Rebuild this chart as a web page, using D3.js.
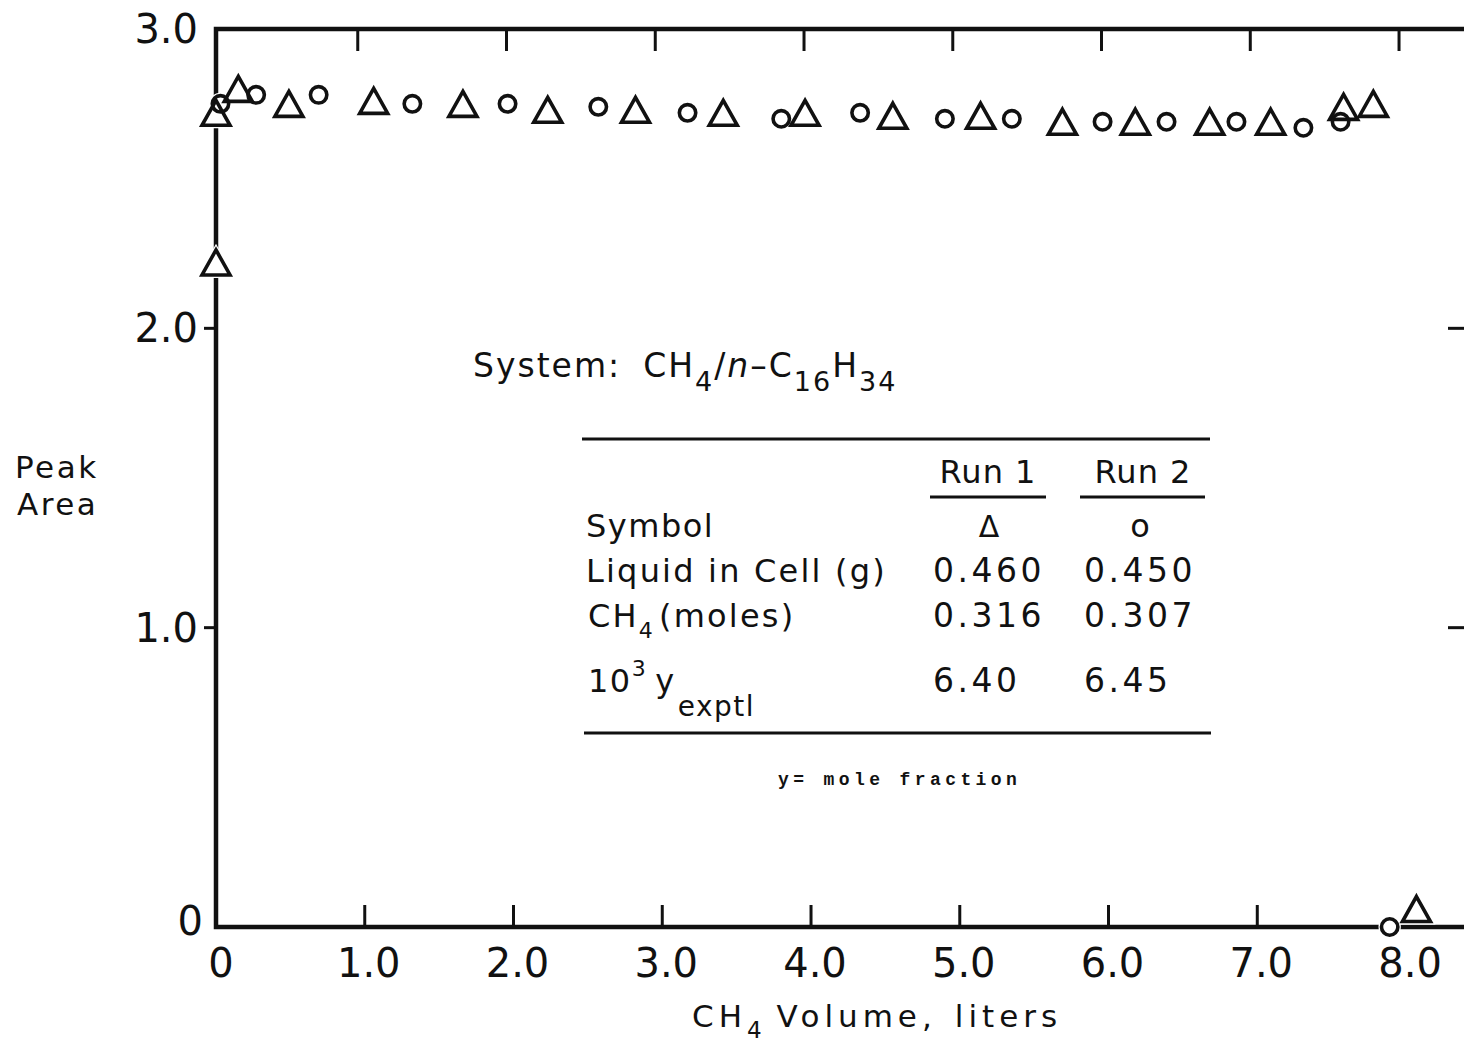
<!DOCTYPE html>
<html>
<head>
<meta charset="utf-8">
<script src="https://cdn.jsdelivr.net/npm/d3@7"></script>
<style>
    body { margin: 0; background: #fff; }
    svg { display: block; font-family: "DejaVu Sans", sans-serif; }
</style>
</head>
<body>
<svg id="chart" width="1464" height="1049"></svg>
<script>
// Datos (Peak Area vs CH4 Volume)
const run1X = [0.0, 0.0, 0.15, 0.49, 1.06, 1.66, 2.23, 2.82, 3.41, 3.96, 4.55, 5.14, 5.69, 6.18, 6.68, 7.09, 7.58, 7.78, 8.07];
const run1Y = [2.72, 2.22, 2.80, 2.75, 2.76, 2.75, 2.73, 2.73, 2.72, 2.72, 2.71, 2.71, 2.69, 2.69, 2.69, 2.69, 2.74, 2.75, 0.06];
const run2X = [0.03, 0.27, 0.69, 1.32, 1.96, 2.57, 3.17, 3.80, 4.33, 4.90, 5.35, 5.96, 6.39, 6.86, 7.31, 7.56, 7.89];
const run2Y = [2.75, 2.78, 2.78, 2.75, 2.75, 2.74, 2.72, 2.70, 2.72, 2.70, 2.70, 2.69, 2.69, 2.69, 2.67, 2.69, 0.0];

// Ticks
const xTicks = [0, 1, 2, 3, 4, 5, 6, 7, 8];
const xTickLabels = ["0", "1.0", "2.0", "3.0", "4.0", "5.0", "6.0", "7.0", "8.0"];
const yTicks = [0, 1, 2, 3];
const yTickLabels = ["0", "1.0", "2.0", "3.0"];

// Tabla de la leyenda
const runNames = ["Run 1", "Run 2"];
const runSymbols = ["Δ", "o"];
const liquidInCell = ["0.460", "0.450"];
const ch4Moles = ["0.316", "0.307"];
const yExptl = ["6.40", "6.45"];

const svg = d3.select("#chart");

const x = d3.scaleLinear().domain([0, 8.43]).range([216, 1470]);
const y = d3.scaleLinear().domain([0, 3]).range([927, 29]);

const ink = "#111";

// Marco (el lado derecho queda fuera de la imagen)
const frame = svg.append("g")
    .attr("stroke", ink)
    .attr("stroke-width", 4.5)
    .attr("fill", "none");

frame.append("rect")
    .attr("x", x(0))
    .attr("y", y(3))
    .attr("width", x(8.43) - x(0))
    .attr("height", y(0) - y(3));

// Ticks hacia dentro: abajo y arriba
const inner = [1, 2, 3, 4, 5, 6, 7];
svg.append("g")
    .attr("stroke", ink)
    .attr("stroke-width", 3)
    .selectAll("line.bt")
    .data(inner)
    .enter()
    .append("line")
    .attr("x1", d => x(d))
    .attr("x2", d => x(d))
    .attr("y1", y(0))
    .attr("y2", y(0) - 22);

svg.append("g")
    .attr("stroke", ink)
    .attr("stroke-width", 3)
    .selectAll("line.tt")
    .data(inner.concat([8]))
    .enter()
    .append("line")
    .attr("x1", d => x(d) - 7)
    .attr("x2", d => x(d) - 7)
    .attr("y1", y(3))
    .attr("y2", y(3) + 22);

// Ticks del eje y (izquierda hacia fuera, derecha hacia dentro)
svg.append("g")
    .attr("stroke", ink)
    .attr("stroke-width", 3)
    .selectAll("line")
    .data([1, 2])
    .enter()
    .append("line")
    .attr("x1", x(0) - 12)
    .attr("x2", x(0))
    .attr("y1", d => y(d))
    .attr("y2", d => y(d));

svg.append("g")
    .attr("stroke", ink)
    .attr("stroke-width", 3)
    .selectAll("line")
    .data([1, 2])
    .enter()
    .append("line")
    .attr("x1", x(8.43) - 22)
    .attr("x2", x(8.43))
    .attr("y1", d => y(d))
    .attr("y2", d => y(d));

// Etiquetas de ticks
svg.append("g")
    .attr("font-size", 40)
    .attr("fill", ink)
    .attr("text-anchor", "middle")
    .selectAll("text")
    .data(xTicks)
    .enter()
    .append("text")
    .attr("x", d => x(d) + (d === 0 ? 5 : 4))
    .attr("y", 977)
    .text((d, i) => xTickLabels[i]);

svg.append("g")
    .attr("font-size", 40)
    .attr("fill", ink)
    .attr("text-anchor", "end")
    .selectAll("text")
    .data(yTicks)
    .enter()
    .append("text")
    .attr("x", d => d === 0 ? 203 : 198)
    .attr("y", d => y(d) + 14 - (d === 0 ? 6 : 0))
    .text((d, i) => yTickLabels[i]);

// Titulos de ejes
const yTitle = svg.append("text")
    .attr("font-size", 31)
    .attr("letter-spacing", 2.5)
    .attr("fill", ink);
yTitle.append("tspan").attr("x", 15).attr("y", 478).text("Peak");
yTitle.append("tspan").attr("x", 17).attr("y", 515).text("Area");

const xTitle = svg.append("text")
    .attr("x", 692)
    .attr("y", 1027)
    .attr("font-size", 31)
    .attr("letter-spacing", 5)
    .attr("fill", ink);
xTitle.append("tspan").text("CH");
xTitle.append("tspan").attr("font-size", 23).attr("dy", 11).text("4");
xTitle.append("tspan").attr("dy", -11).attr("dx", 10).text("Volume,");
xTitle.append("tspan").attr("dx", 18).text("liters");

// Marcadores: primero el relleno blanco, luego los contornos
const run1 = run1X.map((v, i) => ({ x: v, y: run1Y[i] }));
const run2 = run2X.map((v, i) => ({ x: v, y: run2Y[i] }));

function trianglePath(d) {
    const cx = x(d.x), cy = y(d.y), w = 28, h = 25;
    return `M${cx},${cy - h / 2}L${cx + w / 2},${cy + h / 2}L${cx - w / 2},${cy + h / 2}Z`;
}

const markers = svg.append("g");
const circleR = 8.2;

markers.selectAll(".tri-bg")
    .data(run1)
    .enter()
    .append("path")
    .attr("d", trianglePath)
    .attr("fill", "#fff")
    .attr("stroke", "#fff")
    .attr("stroke-width", 6);

markers.selectAll(".circ-bg")
    .data(run2)
    .enter()
    .append("circle")
    .attr("cx", d => x(d.x))
    .attr("cy", d => y(d.y))
    .attr("r", circleR)
    .attr("fill", "#fff")
    .attr("stroke", "#fff")
    .attr("stroke-width", 6);

markers.selectAll(".tri")
    .data(run1)
    .enter()
    .append("path")
    .attr("d", trianglePath)
    .attr("fill", "none")
    .attr("stroke", ink)
    .attr("stroke-width", 3.6)
    .attr("stroke-linejoin", "miter");

markers.selectAll(".circ")
    .data(run2)
    .enter()
    .append("circle")
    .attr("cx", d => x(d.x))
    .attr("cy", d => y(d.y))
    .attr("r", circleR)
    .attr("fill", "none")
    .attr("stroke", ink)
    .attr("stroke-width", 3.6);

// Sistema
const sys = svg.append("text")
    .attr("x", 473)
    .attr("y", 377)
    .attr("font-size", 33)
    .attr("letter-spacing", 2)
    .attr("fill", ink);
sys.append("tspan").text("System:");
sys.append("tspan").attr("dx", 22).text("CH");
sys.append("tspan").attr("font-size", 27).attr("dy", 14).text("4");
sys.append("tspan").attr("dy", -14).text("/");
sys.append("tspan").attr("font-style", "italic").text("n");
sys.append("tspan").text("–C");
sys.append("tspan").attr("font-size", 27).attr("dy", 14).text("16");
sys.append("tspan").attr("dy", -14).text("H");
sys.append("tspan").attr("font-size", 27).attr("dy", 14).text("34");

// Tabla
const table = svg.append("g").attr("fill", ink);
const colX = [933, 1084];
const colCenter = [988, 1143];
const colLine = [[930, 1046], [1080, 1205]];

table.append("line")
    .attr("x1", 582).attr("x2", 1210)
    .attr("y1", 439).attr("y2", 439)
    .attr("stroke", ink).attr("stroke-width", 3);
table.append("line")
    .attr("x1", 584).attr("x2", 1211)
    .attr("y1", 733).attr("y2", 733)
    .attr("stroke", ink).attr("stroke-width", 3);

runNames.forEach((name, i) => {
    table.append("text")
        .attr("x", colCenter[i])
        .attr("y", 483)
        .attr("font-size", 32)
        .attr("letter-spacing", 1)
        .attr("text-anchor", "middle")
        .text(name);
    table.append("line")
        .attr("x1", colLine[i][0]).attr("x2", colLine[i][1])
        .attr("y1", 497).attr("y2", 497)
        .attr("stroke", ink).attr("stroke-width", 3);
    table.append("text")
        .attr("x", colCenter[i] - (i === 0 ? -1 : 3))
        .attr("y", 537)
        .attr("font-size", i === 0 ? 30 : 32)
        .attr("text-anchor", "middle")
        .text(runSymbols[i]);
    table.append("text")
        .attr("x", colX[i]).attr("y", 582)
        .attr("font-size", 33).attr("letter-spacing", 3.5)
        .text(liquidInCell[i]);
    table.append("text")
        .attr("x", colX[i]).attr("y", 627)
        .attr("font-size", 33).attr("letter-spacing", 3.5)
        .text(ch4Moles[i]);
    table.append("text")
        .attr("x", colX[i]).attr("y", 692)
        .attr("font-size", 33).attr("letter-spacing", 3.5)
        .text(yExptl[i]);
});

const rowFont = { size: 32, spacing: 2.2 };
table.append("text")
    .attr("x", 586).attr("y", 537)
    .attr("font-size", rowFont.size).attr("letter-spacing", 1.5)
    .text("Symbol");
table.append("text")
    .attr("x", 586).attr("y", 582)
    .attr("font-size", rowFont.size).attr("letter-spacing", rowFont.spacing)
    .text("Liquid in Cell (g)");

const ch4Row = table.append("text")
    .attr("x", 588).attr("y", 627)
    .attr("font-size", rowFont.size).attr("letter-spacing", rowFont.spacing);
ch4Row.append("tspan").text("CH");
ch4Row.append("tspan").attr("font-size", 22).attr("dy", 11).text("4");
ch4Row.append("tspan").attr("dy", -11).attr("dx", 4).text("(moles)");

const yRow = table.append("text")
    .attr("x", 588).attr("y", 692)
    .attr("font-size", rowFont.size).attr("letter-spacing", 1.5);
yRow.append("tspan").text("10");
yRow.append("tspan").attr("font-size", 22).attr("dy", -16).text("3");
yRow.append("tspan").attr("dy", 16).attr("dx", 8).text("y");
yRow.append("tspan").attr("font-size", 28).attr("dy", 24).attr("dx", 2).text("exptl");

svg.append("text")
    .attr("x", 778)
    .attr("y", 785)
    .attr("font-family", "Liberation Mono, DejaVu Sans Mono, monospace")
    .attr("font-weight", "bold")
    .attr("font-size", 18)
    .attr("letter-spacing", 4.4)
    .attr("fill", ink)
    .text("y= mole fraction");
</script>
</body>
</html>
